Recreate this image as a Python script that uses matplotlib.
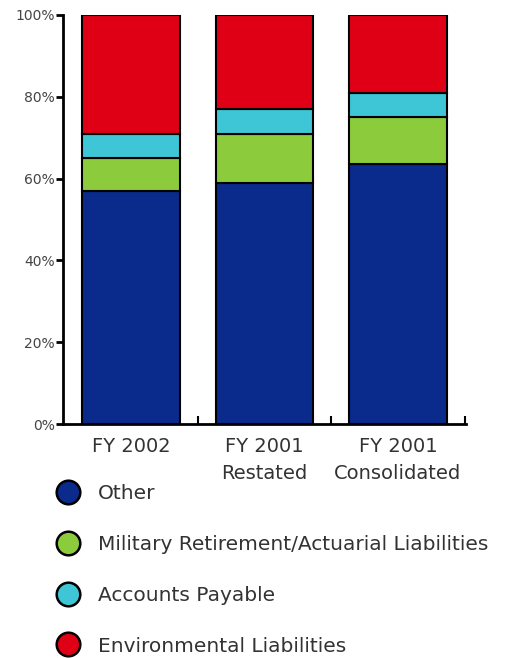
import matplotlib.pyplot as plt
from matplotlib.lines import Line2D
import numpy as np

# data (percent of total liabilities)
categories = ['FY 2002', 'FY 2001\nRestated', 'FY 2001\nConsolidated']
series = ['Other', 'Military Retirement/Actuarial Liabilities',
          'Accounts Payable', 'Environmental Liabilities']
other = [57, 59, 63.5]
military = [8, 12, 11.5]
payable = [6, 6, 6]
environ = [29, 23, 19]
colors = ['#0a2a8c', '#8ccc3c', '#3ec6d6', '#e00016']
yticks = [0, 20, 40, 60, 80, 100]

fig = plt.figure(figsize=(5.3, 6.58), dpi=100)
ax = fig.add_axes([63/530, 1-424/658, (466-63)/530, (424-15)/658])

x = np.arange(len(categories))
bottom = np.zeros(len(categories))
for vals, col in zip([other, military, payable, environ], colors):
    ax.bar(x, vals, width=0.73, bottom=bottom, color=col,
           edgecolor='black', linewidth=1.5, zorder=2)
    bottom += np.array(vals)

ax.set_xlim(-0.51, 2.51)
ax.set_ylim(0, 100)
ax.spines['top'].set_visible(False)
ax.spines['right'].set_visible(False)
ax.spines['left'].set_linewidth(2)
ax.spines['bottom'].set_linewidth(2)

ax.set_yticks(yticks)
ax.set_yticklabels([f'{v}%' for v in yticks])
ax.tick_params(axis='y', direction='out', length=5, width=2,
               labelsize=10, labelcolor='#444444', pad=1)

# boundary ticks on x axis, labels centered under bars
ax.set_xticks([0.5, 1.5, 2.5])
ax.set_xticklabels([])
ax.tick_params(axis='x', direction='in', length=6, width=1.5)
ax.set_xticks(x, minor=True)
ax.set_xticklabels(categories, minor=True)
ax.tick_params(axis='x', which='minor', length=0, labelsize=14,
               labelcolor='#333333', pad=9)
for lbl in ax.get_xticklabels(minor=True):
    lbl.set_linespacing(1.56)

handles = [Line2D([], [], marker='o', linestyle='none', markersize=17,
                  markerfacecolor=c, markeredgecolor='black',
                  markeredgewidth=1.8) for c in colors]
leg = fig.legend(handles, series, loc='upper left',
                 bbox_to_anchor=(47.5/530, 1-476/658), frameon=False,
                 fontsize=14.5, labelspacing=1.58, handletextpad=0.9,
                 handlelength=1.2, borderaxespad=0)
for t in leg.get_texts():
    t.set_color('#333333')

fig.savefig('out.png', dpi=100)
